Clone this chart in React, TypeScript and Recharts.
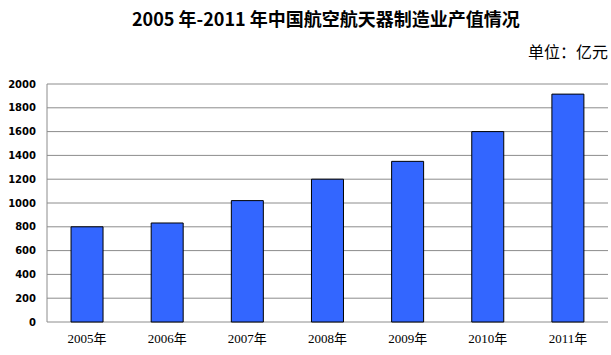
import React from 'react';
import { BarChart, Bar, XAxis, YAxis, CartesianGrid } from 'recharts';

const years = ['2005年', '2006年', '2007年', '2008年', '2009年', '2010年', '2011年'];
const values = [800, 832, 1020, 1200, 1350, 1600, 1915];
const yTicks = [0, 200, 400, 600, 800, 1000, 1200, 1400, 1600, 1800, 2000];
const edgeTicks = [0, 1, 2, 3, 4, 5, 6, 7];
const title = '2005 年-2011 年中国航空航天器制造业产值情况';
const unit = '单位：亿元';

const data = years.map((y, i) => ({ year: y, value: values[i] }));

export default function App() {
  return (
    <div style={{ position: 'absolute', left: 0, top: 0, width: 611, height: 355, background: '#fff', overflow: 'hidden' }}>
      <BarChart
        width={611}
        height={355}
        data={data}
        margin={{ top: 84, right: 3, left: 0, bottom: 0 }}
        barCategoryGap="30%"
      >
        <CartesianGrid xAxisId="cat" vertical={false} stroke="#8c8c8c" strokeWidth={1} />
        <XAxis
          xAxisId="edges"
          type="number"
          domain={[0, 7]}
          ticks={edgeTicks}
          tick={false}
          tickSize={4}
          tickLine={{ stroke: '#8c8c8c' }}
          axisLine={{ stroke: '#8c8c8c' }}
          height={0}
          allowDataOverflow
        />
        <XAxis
          xAxisId="cat"
          dataKey="year"
          tickLine={false}
          axisLine={false}
          tickSize={4}
          tickMargin={8}
          height={33}
          interval={0}
          tick={{ fill: '#000', fontSize: 13, fontFamily: '"Liberation Serif", "Noto Sans CJK SC", serif' }}
        />
        <YAxis
          domain={[0, 2000]}
          ticks={yTicks}
          width={47}
          tickLine={false}
          tickMargin={5}
          axisLine={{ stroke: '#8c8c8c' }}
          interval={0}
          tick={{ fill: '#000', fontSize: 10, fontWeight: 'bold', fontFamily: '"DejaVu Sans", sans-serif' }}
        />
        <Bar
          xAxisId="cat"
          dataKey="value"
          fill="#3366ff"
          stroke="#000"
          strokeWidth={1}
          isAnimationActive={false}
        />
      </BarChart>
      <div
        style={{
          position: 'absolute',
          left: 132,
          top: 9,
          fontSize: 18,
          lineHeight: '18px',
          fontWeight: 'bold',
          fontFamily: '"Noto Sans CJK SC", sans-serif',
          whiteSpace: 'nowrap',
          color: '#000',
        }}
      >
        {title}
      </div>
      <div
        style={{
          position: 'absolute',
          right: 3,
          top: 43,
          fontSize: 16,
          lineHeight: '16px',
          fontFamily: '"Noto Sans CJK SC", sans-serif',
          whiteSpace: 'nowrap',
          color: '#000',
        }}
      >
        {unit}
      </div>
    </div>
  );
}
